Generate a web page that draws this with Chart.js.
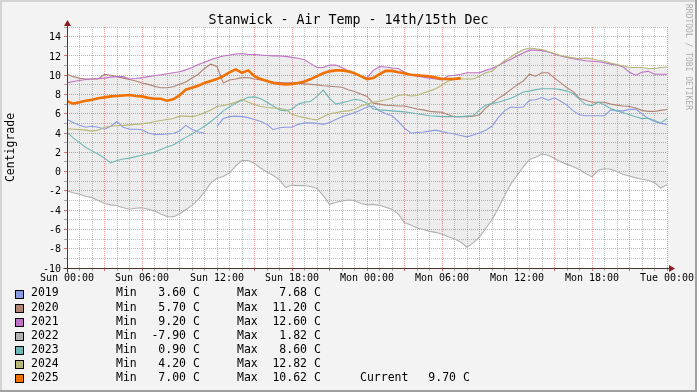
<!DOCTYPE html>
<html><head><meta charset="utf-8">
<script src="https://cdn.jsdelivr.net/npm/chart.js@4/dist/chart.umd.min.js"></script>
<style>
html,body{margin:0;padding:0;background:#f3f3f3;}
canvas{display:block;}
</style></head><body>
<canvas id="c" width="697" height="392"></canvas>
<script>
const TITLE = 'Stanwick - Air Temp - 14th/15th Dec';
const Y_LABEL = 'Centigrade';
const CREDIT = 'RRDTOOL / TOBI OETIKER';

const HOURS = [
  0,0.5,1,1.5,2,2.5,3,3.5,4,4.5,5,5.5,
  6,6.5,7,7.5,8,8.5,9,9.5,10,10.5,11,11.5,
  12,12.5,13,13.5,14,14.5,15,15.5,16,16.5,17,17.5,
  18,18.5,19,19.5,20,20.5,21,21.5,22,22.5,23,23.5,
  24,24.5,25,25.5,26,26.5,27,27.5,28,28.5,29,29.5,
  30,30.5,31,31.5,32,32.5,33,33.5,34,34.5,35,35.5,
  36,36.5,37,37.5,38,38.5,39,39.5,40,40.5,41,41.5,
  42,42.5,43,43.5,44,44.5,45,45.5,46,46.5,47,47.5,
  48
];
const X_TICK_LABELS = ['Sun 00:00','Sun 06:00','Sun 12:00','Sun 18:00','Mon 00:00','Mon 06:00','Mon 12:00','Mon 18:00','Tue 00:00'];
const Y_TICK_LABELS = [-10,-8,-6,-4,-2,0,2,4,6,8,10,12,14];

const YEARS = ['2019','2020','2021','2022','2023','2024','2025'];

const V2019 = [
  5.4,5.1,4.8,4.6,4.7,4.6,4.4,4.7,5.2,4.6,4.4,4.4,
  4.35,4.0,3.85,3.85,3.9,3.95,4.2,4.8,4.4,4.1,4.0,null,
  4.7,5.5,5.7,5.75,5.7,5.6,5.4,5.2,4.9,4.35,4.55,4.6,
  4.6,4.9,5.05,5.05,5.0,4.9,5.1,5.4,5.7,5.9,6.1,6.4,
  6.7,6.8,6.3,6.0,5.8,5.2,4.5,4.0,4.05,4.1,4.2,4.3,
  4.15,4.0,3.9,3.75,3.6,3.8,4.0,4.3,4.7,5.6,6.3,6.7,
  6.65,6.7,7.4,7.45,7.68,7.4,7.65,7.3,6.9,6.3,5.9,5.8,
  5.8,5.8,5.8,6.4,6.3,6.3,6.45,6.45,6.0,5.5,5.2,5.0,
  4.9
];
const V2020 = [
  10.1,9.85,9.7,9.6,9.6,9.6,10.1,10.0,9.85,9.7,9.55,9.4,
  9.2,9.05,8.85,8.7,8.7,8.8,9.05,9.3,9.7,10.1,10.7,11.15,
  10.9,9.2,9.5,9.6,9.75,9.75,9.6,9.5,9.4,9.3,9.25,9.2,
  9.2,9.15,9.1,9.05,9.0,8.9,8.85,8.8,8.75,8.5,8.3,8.05,
  7.8,7.1,7.0,6.9,6.85,6.8,6.8,6.65,6.5,6.4,6.25,6.2,
  6.15,5.9,5.7,5.7,5.7,5.75,5.9,6.6,7.1,7.6,8.0,8.5,
  9.0,9.4,10.1,9.9,10.25,10.25,9.7,9.2,8.7,8.3,7.6,7.4,
  7.2,7.2,7.2,7.0,6.9,6.8,6.75,6.6,6.35,6.25,6.25,6.35,
  6.45
];
const V2021 = [
  9.2,9.35,9.45,9.55,9.6,9.65,9.7,9.8,9.85,9.85,9.6,9.65,
  9.75,9.85,9.95,10.05,10.15,10.25,10.35,10.55,10.8,11.1,11.35,11.6,
  11.8,12.0,12.1,12.2,12.25,12.15,12.15,12.1,12.05,12.0,12.0,11.95,
  11.85,11.75,11.6,11.2,10.8,10.8,11.05,11.05,10.8,10.45,10.2,9.9,
  9.75,10.5,10.9,10.85,10.75,10.7,10.3,10.05,9.9,9.8,9.7,9.6,
  9.5,9.95,10.0,10.1,10.25,10.25,10.25,10.5,10.7,11.0,11.35,11.65,
  12.0,12.3,12.6,12.6,12.55,12.4,12.2,12.0,11.85,11.7,11.6,11.5,
  11.45,11.4,11.3,11.15,11.05,10.85,10.3,10.0,10.3,10.4,10.1,10.1,
  10.1
];
const V2022 = [
  -2.0,-2.2,-2.35,-2.55,-2.7,-3.0,-3.3,-3.45,-3.55,-3.75,-3.9,-3.8,
  -3.75,-3.9,-4.1,-4.4,-4.65,-4.7,-4.4,-3.95,-3.5,-2.9,-2.1,-1.2,
  -0.7,-0.5,-0.15,0.6,1.15,1.15,0.85,0.35,-0.05,-0.4,-0.85,-1.65,
  -1.4,-1.45,-1.45,-1.55,-1.75,-2.5,-3.4,-3.2,-3.05,-2.95,-3.0,-3.3,
  -3.45,-3.4,-3.5,-3.7,-3.9,-4.4,-5.3,-5.55,-5.85,-6.0,-6.2,-6.3,
  -6.5,-6.75,-7.0,-7.3,-7.85,-7.4,-6.8,-5.9,-5.0,-3.8,-2.5,-1.3,
  -0.4,0.5,1.25,1.5,1.82,1.7,1.35,1.0,0.75,0.5,0.2,-0.2,
  -0.55,0.15,0.3,0.25,0.0,-0.3,-0.45,-0.65,-0.8,-0.9,-1.15,-1.7,
  -1.35
];
const V2023 = [
  4.1,3.5,3.0,2.5,2.15,1.8,1.4,0.9,1.15,1.3,1.4,1.55,
  1.7,1.85,2.0,2.3,2.55,2.75,3.15,3.55,3.9,4.3,4.7,5.2,
  5.7,6.3,6.7,7.1,7.4,7.7,7.75,7.55,7.2,6.8,6.4,6.3,
  6.5,7.0,7.2,7.3,7.8,8.45,7.6,7.0,7.15,7.3,7.5,7.4,
  7.1,6.5,6.4,6.35,6.3,6.25,6.2,6.1,6.0,5.9,5.8,5.75,
  5.7,5.7,5.7,5.7,5.75,5.8,6.4,6.9,7.05,7.2,7.4,7.6,
  7.9,8.25,8.35,8.5,8.6,8.6,8.6,8.5,8.35,8.1,7.5,6.95,
  6.85,7.2,6.9,6.55,6.3,6.1,5.9,5.7,5.5,5.55,5.3,5.05,
  5.5
];
const V2024 = [
  4.45,4.4,4.35,4.3,4.2,4.3,4.6,4.7,4.75,4.8,4.85,4.9,
  4.95,5.05,5.2,5.3,5.4,5.5,5.75,5.75,5.7,5.85,6.1,6.4,
  6.75,6.85,7.0,7.2,7.5,7.2,6.95,6.75,6.65,6.6,6.55,6.45,
  5.95,5.75,5.6,5.45,5.35,5.7,6.0,6.1,6.25,6.3,6.45,6.8,
  7.0,7.2,7.3,7.45,7.6,7.9,8.0,7.85,7.9,8.15,8.35,8.6,
  8.95,9.4,9.55,9.6,9.6,9.6,9.9,10.25,10.4,11.0,11.5,11.9,
  12.3,12.65,12.82,12.75,12.65,12.45,12.25,12.05,11.9,11.8,11.7,11.8,
  11.7,11.55,11.45,11.25,11.1,10.95,10.8,10.8,10.8,10.7,10.7,10.8,
  10.85
];
const V2025 = [
  7.3,7.05,7.2,7.35,7.45,7.6,7.7,7.8,7.85,7.9,7.95,7.85,
  7.8,7.65,7.55,7.55,7.35,7.5,7.9,8.5,8.7,8.9,9.2,9.4,
  9.6,9.9,10.3,10.6,10.25,10.5,9.9,9.6,9.4,9.2,9.1,9.05,
  9.1,9.2,9.35,9.6,9.9,10.2,10.4,10.5,10.5,10.4,10.2,9.9,
  9.6,9.7,10.1,10.45,10.45,10.3,10.2,10.05,10.0,9.95,9.9,9.75,
  9.6,9.6,9.6,9.7,null,null,null,null,null,null,null,null,
  null,null,null,null,null,null,null,null,null,null,null,null,
  null,null,null,null,null,null,null,null,null,null,null,null,
  null
];

const MIN_TEXT = ['3.60','5.70','9.20','-7.90','0.90','4.20','7.00'];
const MAX_TEXT = ['7.68','11.20','12.60','1.82','8.60','12.82','10.62'];
const CURRENT_TEXT = '9.70';

const SERIES = [V2019, V2020, V2021, V2022, V2023, V2024, V2025];
const COLORS = ['#8c9be1','#b08474','#c070c4','#b0b0b0','#70b6b6','#b6b678','#f07000'];
const WIDTHS = [1.1,1.1,1.1,1.1,1.1,1.1,2.6];

// envelope (min / max of all years at each time) for the shaded band
const envMax = HOURS.map((h, i) => {
  const v = SERIES.map(s => s[i]).filter(x => x !== null);
  return {x: h, y: Math.max(...v)};
});
const envMin = HOURS.map((h, i) => {
  const v = SERIES.map(s => s[i]).filter(x => x !== null);
  return {x: h, y: Math.min(...v)};
});

const datasets = [
  {data: envMax, borderWidth: 0, pointRadius: 0, fill: false, order: 100, borderColor: 'rgba(0,0,0,0)'},
  {data: envMin, borderWidth: 0, pointRadius: 0, fill: '-1', order: 100, borderColor: 'rgba(0,0,0,0)', backgroundColor: 'rgba(0,0,0,0.07)'}
];
SERIES.forEach((s, i) => {
  datasets.push({
    label: YEARS[i],
    data: HOURS.map((h, j) => ({x: h, y: s[j]})),
    borderColor: COLORS[i],
    borderWidth: WIDTHS[i],
    pointRadius: 0,
    tension: 0,
    fill: false,
    spanGaps: false,
    order: 20 - i
  });
});

const MONO = '"DejaVu Sans Mono", monospace';

const deco = {
  id: 'deco',
  beforeDraw(chart) {
    const {ctx, chartArea: a} = chart;
    ctx.save();
    ctx.fillStyle = '#f3f3f3';
    ctx.fillRect(0, 0, 697, 392);
    ctx.fillStyle = '#d4d4d4';
    ctx.fillRect(0, 0, 697, 2);
    ctx.fillRect(0, 0, 2, 392);
    ctx.fillStyle = '#a0a0a0';
    ctx.fillRect(0, 390, 697, 2);
    ctx.fillRect(695, 0, 2, 392);
    ctx.fillStyle = '#ffffff';
    ctx.fillRect(a.left, a.top, a.right - a.left, a.bottom - a.top);
    ctx.restore();
  },
  afterDraw(chart) {
    const {ctx, chartArea: a} = chart;
    ctx.save();
    const ax = Math.round(a.left) + 0.5;
    const ay = Math.round(a.bottom) + 0.5;
    ctx.strokeStyle = '#4a3434';
    ctx.lineWidth = 1;
    ctx.beginPath(); ctx.moveTo(ax - 4, ay); ctx.lineTo(a.right + 4, ay); ctx.stroke();
    ctx.beginPath(); ctx.moveTo(ax, ay + 4); ctx.lineTo(ax, a.top - 3); ctx.stroke();
    ctx.fillStyle = '#8e1c1c';
    ctx.beginPath(); ctx.moveTo(ax, a.top - 7); ctx.lineTo(ax - 3.5, a.top - 1); ctx.lineTo(ax + 3.5, a.top - 1); ctx.closePath(); ctx.fill();
    ctx.beginPath(); ctx.moveTo(a.right + 8, ay); ctx.lineTo(a.right + 2, ay - 3.5); ctx.lineTo(a.right + 2, ay + 3.5); ctx.closePath(); ctx.fill();

    // title
    ctx.fillStyle = '#000';
    ctx.font = '13.3px ' + MONO;
    ctx.textAlign = 'center';
    ctx.textBaseline = 'alphabetic';
    ctx.fillText(TITLE, 348.5, 24);

    // y label
    ctx.save();
    ctx.translate(11.5, (a.top + a.bottom) / 2);
    ctx.rotate(-Math.PI / 2);
    ctx.font = '11.5px ' + MONO;
    ctx.textAlign = 'center';
    ctx.textBaseline = 'middle';
    ctx.fillText(Y_LABEL, 0, 0);
    ctx.restore();

    // credit
    ctx.save();
    ctx.translate(688, 4);
    ctx.rotate(Math.PI / 2);
    ctx.font = '8px ' + MONO;
    ctx.fillStyle = '#acacac';
    ctx.textAlign = 'left';
    ctx.textBaseline = 'middle';
    ctx.fillText(CREDIT, 0, 0);
    ctx.restore();

    // legend
    ctx.font = '11.5px ' + MONO;
    ctx.textBaseline = 'middle';
    YEARS.forEach((yr, i) => {
      const y = 293.5 + i * 14.15;
      ctx.fillStyle = COLORS[i];
      ctx.fillRect(15, Math.round(y) - 4, 9, 9);
      ctx.strokeStyle = '#000';
      ctx.lineWidth = 1;
      ctx.strokeRect(15.5, Math.round(y) - 3.5, 8, 8);
      ctx.fillStyle = '#000';
      ctx.textAlign = 'left';
      ctx.fillText(yr, 31, y);
      ctx.fillText('Min', 116, y);
      ctx.textAlign = 'right';
      ctx.fillText(MIN_TEXT[i], 186, y);
      ctx.textAlign = 'left';
      ctx.fillText('C', 193, y);
      ctx.fillText('Max', 237, y);
      ctx.textAlign = 'right';
      ctx.fillText(MAX_TEXT[i], 307, y);
      ctx.textAlign = 'left';
      ctx.fillText('C', 314, y);
      if (i === YEARS.length - 1) {
        ctx.fillText('Current', 360, y);
        ctx.textAlign = 'right';
        ctx.fillText(CURRENT_TEXT, 456, y);
        ctx.textAlign = 'left';
        ctx.fillText('C', 463, y);
      }
    });
    ctx.restore();
  }
};

const RED = 'rgba(225,70,70,0.55)';
const GREY = 'rgba(150,150,150,0.6)';

new Chart(document.getElementById('c'), {
  type: 'line',
  data: {datasets},
  options: {
    responsive: false,
    animation: false,
    devicePixelRatio: 1,
    layout: {padding: {left: 0, right: 30, top: 27, bottom: 0}},
    plugins: {
      legend: {display: false},
      title: {display: false},
      tooltip: {enabled: false},
      filler: {drawTime: 'beforeDatasetsDraw'}
    },
    scales: {
      x: {
        type: 'linear',
        min: 0, max: 48,
        afterFit: s => { s.height = 124; },
        border: {display: false, dash: [1, 1]},
        grid: {
          color: c => (c.tick && c.tick.value % 3 === 0) ? RED : GREY,
          tickColor: c => (c.tick && c.tick.value % 3 === 0) ? 'rgba(200,60,60,0.7)' : 'rgba(120,120,120,0.6)',
          tickLength: 3,
          lineWidth: 1
        },
        ticks: {
          stepSize: 1,
          autoSkip: false,
          maxRotation: 0,
          padding: 1,
          color: '#000',
          font: {family: 'DejaVu Sans Mono', size: 10},
          callback: v => (v % 6 === 0) ? X_TICK_LABELS[v / 6] : ''
        }
      },
      y: {
        min: -10, max: 15,
        afterFit: s => { s.width = 67; },
        border: {display: false, dash: [1, 1]},
        grid: {
          color: c => (c.tick && c.tick.value % 2 === 0) ? RED : GREY,
          tickColor: c => (c.tick && c.tick.value % 2 === 0) ? 'rgba(200,60,60,0.7)' : 'rgba(120,120,120,0.6)',
          tickLength: 3,
          lineWidth: 1
        },
        ticks: {
          stepSize: 1,
          autoSkip: false,
          padding: 3,
          labelOffset: 1,
          color: '#000',
          font: {family: 'DejaVu Sans Mono', size: 10},
          callback: v => Y_TICK_LABELS.includes(v) ? String(v) : ''
        }
      }
    }
  },
  plugins: [deco]
});
</script>
</body></html>
